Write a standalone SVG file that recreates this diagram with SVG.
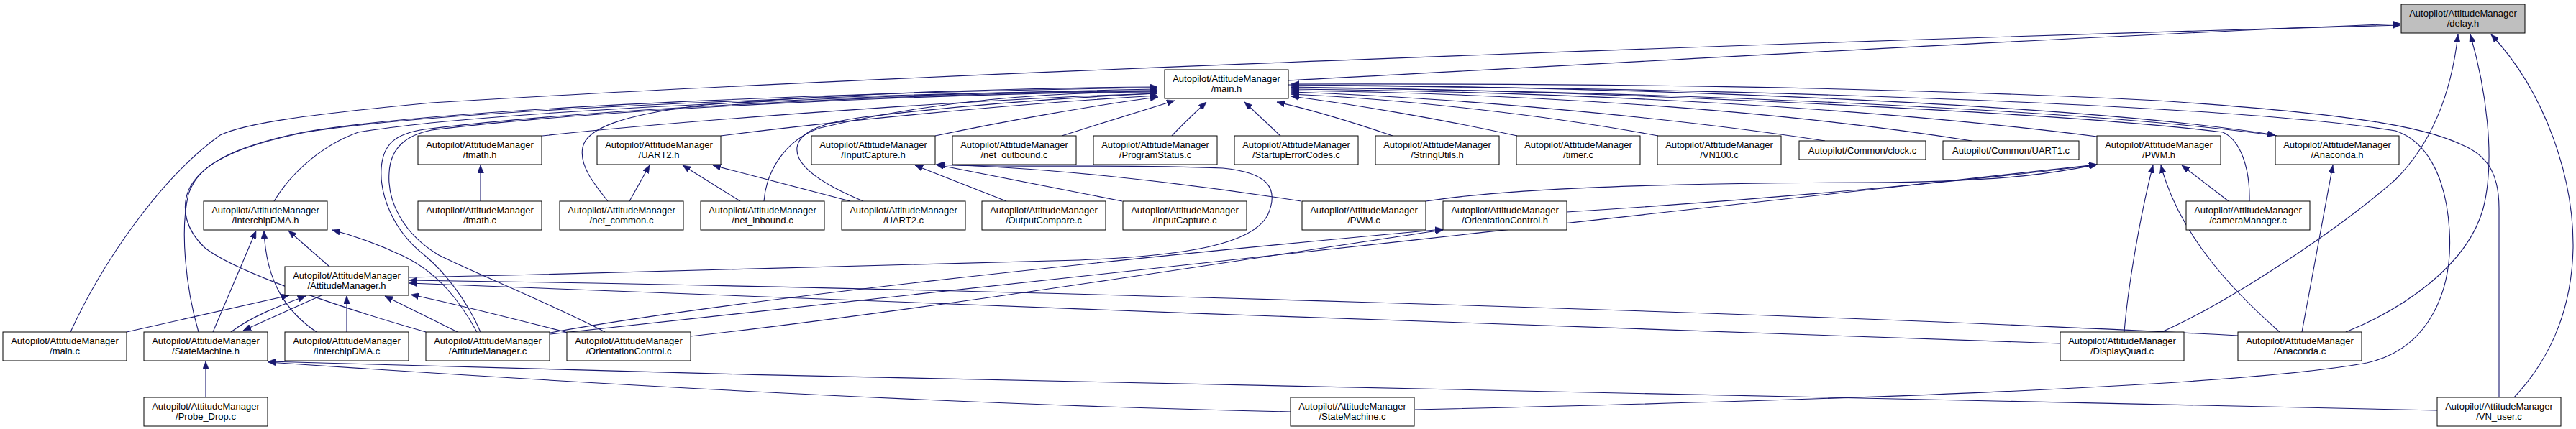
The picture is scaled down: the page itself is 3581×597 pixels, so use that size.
<svg xmlns="http://www.w3.org/2000/svg" width="3581" height="597" viewBox="0 0 3581 597">
<style>
.node rect{fill:#ffffff;stroke:#000000;stroke-width:1}
.root rect{fill:#bfbfbf}
.node text{font-family:"Liberation Sans",Arial,Helvetica,sans-serif;font-size:13px;fill:#000;text-anchor:middle}
.edges path{fill:none;stroke:#191970;stroke-width:1.1;marker-end:url(#ah)}
</style>
<defs>
<marker id="ah" viewBox="0 0 11 9" refX="11" refY="4.5" markerWidth="11" markerHeight="9" markerUnits="userSpaceOnUse" orient="auto">
<path d="M0,0 L11,4.5 L0,9 z" fill="#191970" stroke="#191970" stroke-width="0.5"/>
</marker>
</defs>
<rect width="3581" height="597" fill="#ffffff"/>
<g class="edges" id="edges">
<path d="M1791,112 C 2300,85 2900,50 3337,33"/>
<path d="M98,462 C 140,370 220,250 306,188 C 340,172 420,160 600,143 C 1300,100 2600,55 3337,35"/>
<path d="M3005,462 C 3100,420 3250,320 3330,250 C 3390,190 3410,110 3417,48"/>
<path d="M3261,462 C 3340,430 3430,370 3452,290 C 3470,220 3455,120 3434,48"/>
<path d="M3495,553 C 3540,505 3575,440 3577,345 C 3578,250 3540,130 3463,48"/>
<path d="M754,189 C 950,168 1350,138 1609,130"/>
<path d="M1002,189 C 1150,170 1400,145 1609,133"/>
<path d="M1300,189 C 1400,168 1530,145 1610,135"/>
<path d="M1476,189 C 1530,172 1590,153 1633,140"/>
<path d="M1629,189 C 1645,172 1662,156 1677,142"/>
<path d="M1780,189 C 1762,172 1745,156 1730,142"/>
<path d="M1936,189 C 1880,170 1820,152 1775,142"/>
<path d="M2109,189 C 2000,165 1880,145 1795,134"/>
<path d="M2305,189 C 2150,160 1950,138 1795,131"/>
<path d="M2537,196 C 2300,160 2000,135 1795,128"/>
<path d="M2741,196 C 2450,150 2100,130 1795,126"/>
<path d="M2915,190 C 2600,150 2200,128 1795,124"/>
<path d="M3166,189 C 2900,152 2300,127 1795,122"/>
<path d="M1791,118 C 2300,121 2900,146 3163,188"/>
<path d="M3127,280 C 3128,235 3115,195 3090,184 C 2900,160 2300,128 1795,121"/>
<path d="M1967,570 C 2500,558 3100,540 3290,505 C 3380,485 3410,400 3405,320 C 3400,240 3370,195 3330,182 C 3100,145 2400,122 1795,119"/>
<path d="M3474,553 L3474,290 C 3474,245 3460,220 3430,205 C 3380,180 3300,160 3000,140 C 2600,120 2200,116 1795,117"/>
<path d="M381,280 C 400,248 440,205 498,184 C 700,150 1300,130 1609,124"/>
<path d="M276,462 C 258,400 250,320 262,270 C 275,230 320,205 421,184 C 650,145 1300,126 1609,122"/>
<path d="M592,462 C 480,430 330,380 285,345 C 258,320 252,290 262,265 C 278,228 330,203 425,184 C 650,148 1300,128 1609,126"/>
<path d="M841,462 C 760,420 660,380 610,355 C 560,325 538,280 541,240 C 543,205 565,188 600,181 C 850,150 1300,131 1609,127"/>
<path d="M668,462 C 650,420 620,380 590,355 C 545,320 528,270 530,235 C 532,200 550,186 590,180 C 850,148 1300,130 1609,126"/>
<path d="M845,280 C 825,255 805,230 810,205 C 815,180 860,160 980,146 C 1200,128 1450,122 1609,121"/>
<path d="M1062,280 C 1065,240 1090,195 1140,178 C 1300,140 1450,128 1609,128"/>
<path d="M1200,280 C 1140,255 1105,230 1108,205 C 1112,180 1150,170 1200,163 C 1350,145 1500,135 1609,130"/>
<path d="M176,462 L402,411"/>
<path d="M321,462 C 350,440 390,425 425,412"/>
<path d="M447,411 L338,460"/>
<path d="M482,462 L482,412"/>
<path d="M636,462 L535,412"/>
<path d="M790,463 C 700,440 620,420 571,410"/>
<path d="M2864,478 C 2300,460 1200,420 569,394"/>
<path d="M3111,467 C 2500,435 1300,400 569,390"/>
<path d="M569,386 C 900,379 1250,370 1500,362 C 1650,356 1740,340 1762,300 C 1780,260 1760,240 1700,234 C 1550,228 1400,234 1302,229"/>
<path d="M296,462 L356,321"/>
<path d="M440,462 C 400,435 370,395 367,321"/>
<path d="M458,371 L401,321"/>
<path d="M663,462 C 640,420 610,380 560,356 C 530,342 500,330 462,320"/>
<path d="M668,280 L668,230"/>
<path d="M875,280 L903,230"/>
<path d="M1029,280 L949,230"/>
<path d="M1182,280 L991,230"/>
<path d="M1399,280 L1272,230"/>
<path d="M1560,280 L1301,229"/>
<path d="M1809,280 C 1650,255 1450,232 1302,229"/>
<path d="M1982,280 C 2100,262 2300,255 2600,254 C 2800,253 2870,238 2915,229"/>
<path d="M2178,295 C 2500,275 2800,245 2915,229"/>
<path d="M765,465 C 1200,415 2300,300 2915,229"/>
<path d="M765,463 C 1000,420 1500,365 2006,319"/>
<path d="M960,468 C 1300,430 1800,350 2006,320"/>
<path d="M3098,280 L3033,230"/>
<path d="M2953,462 C 2958,400 2975,300 2993,230"/>
<path d="M3169,462 C 3110,410 3030,330 3004,230"/>
<path d="M3200,462 L3243,230"/>
<path d="M1794,573 C 1400,565 900,540 373,504"/>
<path d="M3388,571 C 2800,565 1500,535 373,503"/>
<path d="M286,553 L286,503"/>
</g>
<g id="n_delay" class="node root"><rect x="3338" y="6" width="172" height="40"/><text><tspan x="3424" y="23">Autopilot/AttitudeManager</tspan><tspan x="3424" y="37">/delay.h</tspan></text></g>
<g id="n_main_h" class="node"><rect x="1619" y="97" width="172" height="40"/><text><tspan x="1705" y="114">Autopilot/AttitudeManager</tspan><tspan x="1705" y="128">/main.h</tspan></text></g>
<g id="n_fmath_h" class="node"><rect x="581" y="189" width="172" height="40"/><text><tspan x="667" y="206">Autopilot/AttitudeManager</tspan><tspan x="667" y="220">/fmath.h</tspan></text></g>
<g id="n_uart2_h" class="node"><rect x="830" y="189" width="172" height="40"/><text><tspan x="916" y="206">Autopilot/AttitudeManager</tspan><tspan x="916" y="220">/UART2.h</tspan></text></g>
<g id="n_inputcapture_h" class="node"><rect x="1128" y="189" width="172" height="40"/><text><tspan x="1214" y="206">Autopilot/AttitudeManager</tspan><tspan x="1214" y="220">/InputCapture.h</tspan></text></g>
<g id="n_net_outbound" class="node"><rect x="1324" y="189" width="172" height="40"/><text><tspan x="1410" y="206">Autopilot/AttitudeManager</tspan><tspan x="1410" y="220">/net_outbound.c</tspan></text></g>
<g id="n_programstatus" class="node"><rect x="1520" y="189" width="172" height="40"/><text><tspan x="1606" y="206">Autopilot/AttitudeManager</tspan><tspan x="1606" y="220">/ProgramStatus.c</tspan></text></g>
<g id="n_startup" class="node"><rect x="1716" y="189" width="172" height="40"/><text><tspan x="1802" y="206">Autopilot/AttitudeManager</tspan><tspan x="1802" y="220">/StartupErrorCodes.c</tspan></text></g>
<g id="n_stringutils" class="node"><rect x="1912" y="189" width="172" height="40"/><text><tspan x="1998" y="206">Autopilot/AttitudeManager</tspan><tspan x="1998" y="220">/StringUtils.h</tspan></text></g>
<g id="n_timer" class="node"><rect x="2108" y="189" width="172" height="40"/><text><tspan x="2194" y="206">Autopilot/AttitudeManager</tspan><tspan x="2194" y="220">/timer.c</tspan></text></g>
<g id="n_vn100" class="node"><rect x="2304" y="189" width="172" height="40"/><text><tspan x="2390" y="206">Autopilot/AttitudeManager</tspan><tspan x="2390" y="220">/VN100.c</tspan></text></g>
<g id="n_clock" class="node"><rect x="2501" y="196" width="176" height="26"/><text><tspan x="2589" y="213.5">Autopilot/Common/clock.c</tspan></text></g>
<g id="n_uart1" class="node"><rect x="2701" y="196" width="189" height="26"/><text><tspan x="2795.5" y="213.5">Autopilot/Common/UART1.c</tspan></text></g>
<g id="n_pwm_h" class="node"><rect x="2915" y="189" width="172" height="40"/><text><tspan x="3001" y="206">Autopilot/AttitudeManager</tspan><tspan x="3001" y="220">/PWM.h</tspan></text></g>
<g id="n_anaconda_h" class="node"><rect x="3163" y="189" width="172" height="40"/><text><tspan x="3249" y="206">Autopilot/AttitudeManager</tspan><tspan x="3249" y="220">/Anaconda.h</tspan></text></g>
<g id="n_interchipdma_h" class="node"><rect x="283" y="280" width="172" height="40"/><text><tspan x="369" y="297">Autopilot/AttitudeManager</tspan><tspan x="369" y="311">/InterchipDMA.h</tspan></text></g>
<g id="n_fmath_c" class="node"><rect x="581" y="280" width="172" height="40"/><text><tspan x="667" y="297">Autopilot/AttitudeManager</tspan><tspan x="667" y="311">/fmath.c</tspan></text></g>
<g id="n_net_common" class="node"><rect x="778" y="280" width="172" height="40"/><text><tspan x="864" y="297">Autopilot/AttitudeManager</tspan><tspan x="864" y="311">/net_common.c</tspan></text></g>
<g id="n_net_inbound" class="node"><rect x="974" y="280" width="172" height="40"/><text><tspan x="1060" y="297">Autopilot/AttitudeManager</tspan><tspan x="1060" y="311">/net_inbound.c</tspan></text></g>
<g id="n_uart2_c" class="node"><rect x="1170" y="280" width="172" height="40"/><text><tspan x="1256" y="297">Autopilot/AttitudeManager</tspan><tspan x="1256" y="311">/UART2.c</tspan></text></g>
<g id="n_outputcompare" class="node"><rect x="1365" y="280" width="172" height="40"/><text><tspan x="1451" y="297">Autopilot/AttitudeManager</tspan><tspan x="1451" y="311">/OutputCompare.c</tspan></text></g>
<g id="n_inputcapture_c" class="node"><rect x="1561" y="280" width="172" height="40"/><text><tspan x="1647" y="297">Autopilot/AttitudeManager</tspan><tspan x="1647" y="311">/InputCapture.c</tspan></text></g>
<g id="n_pwm_c" class="node"><rect x="1810" y="280" width="172" height="40"/><text><tspan x="1896" y="297">Autopilot/AttitudeManager</tspan><tspan x="1896" y="311">/PWM.c</tspan></text></g>
<g id="n_orientation_h" class="node"><rect x="2006" y="280" width="172" height="40"/><text><tspan x="2092" y="297">Autopilot/AttitudeManager</tspan><tspan x="2092" y="311">/OrientationControl.h</tspan></text></g>
<g id="n_cameramanager" class="node"><rect x="3039" y="280" width="172" height="40"/><text><tspan x="3125" y="297">Autopilot/AttitudeManager</tspan><tspan x="3125" y="311">/cameraManager.c</tspan></text></g>
<g id="n_attitudemanager_h" class="node"><rect x="396" y="371" width="172" height="40"/><text><tspan x="482" y="388">Autopilot/AttitudeManager</tspan><tspan x="482" y="402">/AttitudeManager.h</tspan></text></g>
<g id="n_main_c" class="node"><rect x="4" y="462" width="172" height="40"/><text><tspan x="90" y="479">Autopilot/AttitudeManager</tspan><tspan x="90" y="493">/main.c</tspan></text></g>
<g id="n_statemachine_h" class="node"><rect x="200" y="462" width="172" height="40"/><text><tspan x="286" y="479">Autopilot/AttitudeManager</tspan><tspan x="286" y="493">/StateMachine.h</tspan></text></g>
<g id="n_interchipdma_c" class="node"><rect x="396" y="462" width="172" height="40"/><text><tspan x="482" y="479">Autopilot/AttitudeManager</tspan><tspan x="482" y="493">/InterchipDMA.c</tspan></text></g>
<g id="n_attitudemanager_c" class="node"><rect x="592" y="462" width="172" height="40"/><text><tspan x="678" y="479">Autopilot/AttitudeManager</tspan><tspan x="678" y="493">/AttitudeManager.c</tspan></text></g>
<g id="n_orientation_c" class="node"><rect x="788" y="462" width="172" height="40"/><text><tspan x="874" y="479">Autopilot/AttitudeManager</tspan><tspan x="874" y="493">/OrientationControl.c</tspan></text></g>
<g id="n_displayquad" class="node"><rect x="2864" y="462" width="172" height="40"/><text><tspan x="2950" y="479">Autopilot/AttitudeManager</tspan><tspan x="2950" y="493">/DisplayQuad.c</tspan></text></g>
<g id="n_anaconda_c" class="node"><rect x="3111" y="462" width="172" height="40"/><text><tspan x="3197" y="479">Autopilot/AttitudeManager</tspan><tspan x="3197" y="493">/Anaconda.c</tspan></text></g>
<g id="n_probe_drop" class="node"><rect x="200" y="553" width="172" height="40"/><text><tspan x="286" y="570">Autopilot/AttitudeManager</tspan><tspan x="286" y="584">/Probe_Drop.c</tspan></text></g>
<g id="n_statemachine_c" class="node"><rect x="1794" y="553" width="172" height="40"/><text><tspan x="1880" y="570">Autopilot/AttitudeManager</tspan><tspan x="1880" y="584">/StateMachine.c</tspan></text></g>
<g id="n_vn_user" class="node"><rect x="3388" y="553" width="172" height="40"/><text><tspan x="3474" y="570">Autopilot/AttitudeManager</tspan><tspan x="3474" y="584">/VN_user.c</tspan></text></g>
</svg>
